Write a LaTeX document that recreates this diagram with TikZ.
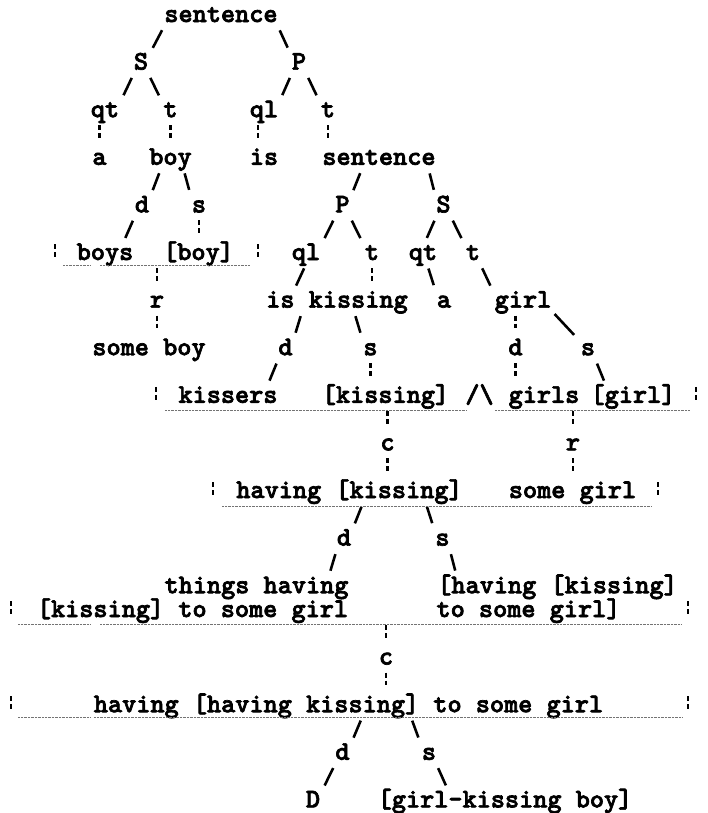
\documentclass[tikz,border=0pt]{standalone}
\usepackage{fontspec}
\newfontfamily\maquina{lmmonolt10-bold.otf}[FakeBold=2.5]
\usetikzlibrary{fit}

\begin{document}
\begin{tikzpicture}[x=0.3mm, y=-0.3mm,
    palabra/.style={font=\maquina\fontsize{23}{27}\selectfont, inner sep=0pt, anchor=base, text height=3.9mm, text depth=1.2mm},
    grupo/.style={inner sep=0pt},
    rama/.style={line width=2.2pt, shorten <=1.35mm, shorten >=2.9mm},
    barra/.style={line width=1.8pt, dash pattern=on 1.5mm off 0.9mm, shorten <=1.15mm, shorten >=4.1mm},
    corchete/.style={line width=1.8pt, dash pattern=on 1.5mm off 0.9mm},
    subrayado/.style={line width=0.6pt, black!55, dash pattern=on 0.6pt off 0.6pt}]
    \useasboundingbox (0,0) rectangle (708,813);

    % Nodos
    \node[palabra] (oracion) at (221,22) {sentence};
    \node[palabra] (S) at (141,69.6) {S};
    \node[palabra] (P) at (299,69.6) {P};
    \node[palabra] (qt) at (105,117.2) {qt};
    \node[palabra] (t) at (170.5,117.2) {t};
    \node[palabra] (ql) at (264,117.2) {ql};
    \node[palabra] (tP) at (328,117.2) {t};
    \node[palabra] (a) at (99.5,164.8) {a};
    \node[palabra] (boy) at (170.5,164.8) {boy};
    \node[palabra] (is) at (264,164.8) {is};
    \node[palabra] (oracionB) at (379,164.8) {sentence};
    \node[palabra] (dboy) at (142,212.4) {d};
    \node[palabra] (sboy) at (199,212.4) {s};
    \node[palabra] (PB) at (342.5,212.4) {P};
    \node[palabra] (SB) at (443.5,212.4) {S};
    \node[palabra] (boys) at (105,260) {boys};
    \node[palabra] (boyc) at (198.5,260) {[boy]};
    \node[palabra] (qlB) at (306,260) {ql};
    \node[palabra] (tB) at (372,260) {t};
    \node[palabra] (qtB) at (423,260) {qt};
    \node[palabra] (tS) at (473,260) {t};
    \node[palabra] (rboy) at (157,307.6) {r};
    \node[palabra] (iskiss) at (337,307.6) {is kissing};
    \node[palabra] (aB) at (444,307.6) {a};
    \node[palabra] (girl) at (523,307.6) {girl};
    \node[palabra] (someboy) at (149,355.2) {some boy};
    \node[palabra] (dkiss) at (285.5,355.2) {d};
    \node[palabra] (skiss) at (370.5,355.2) {s};
    \node[palabra] (dgirl) at (515.5,355.2) {d};
    \node[palabra] (sgirl) at (588,355.2) {s};
    \node[palabra] (kissers) at (228,402.8) {kissers};
    \node[palabra] (kissc) at (385.5,402.8) {[kissing]};
    \node[palabra] (y) at (479.5,402.8) {/\textbackslash};
    \node[palabra] (girls) at (544,402.8) {girls};
    \node[palabra] (girlc) at (633,402.8) {[girl]};
    \node[palabra] (c) at (387.5,450.4) {c};
    \node[palabra] (rgirl) at (573,450.4) {r};
    \node[palabra] (having) at (349.5,498) {having [kissing]};
    \node[palabra] (somegirl) at (572.5,498) {some girl};
    \node[palabra] (dhav) at (344,545.6) {d};
    \node[palabra] (shav) at (442.5,545.6) {s};
    \node[palabra] (things) at (256.5,593.2) {things having};
    \node[palabra] (thingsB) at (192.5,617) {[kissing] to some girl};
    \node[palabra] (havc) at (557.5,593.2) {[having [kissing]};
    \node[palabra] (havcB) at (528.5,617) {to some girl]};
    \node[palabra] (cB) at (386,664.6) {c};
    \node[palabra] (havhav) at (348.5,712.2) {having [having kissing] to some girl};
    \node[palabra] (dfin) at (342.5,759.8) {d};
    \node[palabra] (sfin) at (429,759.8) {s};
    \node[palabra] (D) at (313,807.4) {D};
    \node[palabra] (gkb) at (505,807.4) {[girl-kissing boy]};

    % Grupos
    \node[grupo, fit=(boys)(boyc)] (gboy) {};
    \node[grupo, fit=(kissers)(kissc)] (gkiss) {};
    \node[grupo, fit=(girls)(girlc)] (ggirl) {};
    \node[grupo, fit=(having)(somegirl)] (ghav) {};
    \node[grupo, fit=(things)(thingsB)(havc)(havcB)] (gthings) {};

    % Ramas
    \draw[rama] (oracion.south west) -- (S.north east);
    \draw[rama] (oracion.south east) -- (P.north west);
    \draw[rama] (S.south west) -- (qt.north east);
    \draw[rama] (S.south east) -- (t.north west);
    \draw[rama] (P.south west) -- (ql.north east);
    \draw[rama] (P.south east) -- (tP.north west);
    \draw[barra] (a.north |- qt.south) -- (a.north);
    \draw[barra] (t.south) -- (boy.north);
    \draw[barra] (ql.-125) -- (ql.-125 |- is.north);
    \draw[barra] (tP.south) -- (tP.south |- oracionB.north);
    \draw[rama] (boy.-138) -- (dboy.north east);
    \draw[rama] (boy.-34) -- (sboy.north west);
    \draw[rama] (oracionB.-153) -- (PB.north east);
    \draw[rama] (oracionB.-10) -- (SB.north west);
    \draw[rama] (dboy.south west) -- (boys.28);
    \draw[barra] (sboy.south) -- (sboy.south |- boyc.north);
    \draw[rama] (PB.south west) -- (qlB.north east);
    \draw[rama] (PB.south east) -- (tB.north west);
    \draw[rama] (SB.south west) -- (qtB.north);
    \draw[rama] (SB.south east) -- (tS.north west);
    \draw[barra] (rboy.north |- gboy.south) -- (rboy.north);
    \draw[rama] (qlB.south) -- (iskiss.169);
    \draw[barra] (tB.south) -- (tB.south |- iskiss.north);
    \draw[rama] (qtB.-65) -- (aB.north west);
    \draw[rama] (tS.south east) -- (girl.north west);
    \draw[barra] (rboy.south) -- (rboy.south |- someboy.north);
    \draw[rama] (iskiss.-166) -- (dkiss.north east);
    \draw[rama] (iskiss.-27) -- (skiss.north west);
    \draw[barra] (dgirl.north |- girl.south) -- (dgirl.north);
    \draw[rama] (girl.-15) -- (sgirl.north west);
    \draw[rama] (dkiss.south west) -- (kissers.13);
    \draw[barra] (skiss.south) -- (skiss.south |- kissc.north);
    \draw[barra] (dgirl.south) -- (dgirl.south |- girls.north);
    \draw[rama] (sgirl.south east) -- (girlc.161);
    \draw[barra] (c.north |- gkiss.south) -- (c.north);
    \draw[barra] (rgirl.north |- ggirl.south) -- (rgirl.north);
    \draw[barra] (c.south) -- (c.south |- having.north);
    \draw[barra] (rgirl.south) -- (rgirl.south |- somegirl.north);
    \draw[rama] (ghav.-173.5) -- (dhav.north east);
    \draw[rama] (ghav.-140) -- (shav.north west);
    \draw[rama] (dhav.south west) -- (things.7.5);
    \draw[rama] (shav.south east) -- (havc.175);
    \draw[barra] (cB.north |- gthings.south) -- (cB.north);
    \draw[barra] (cB.south) -- (cB.south |- havhav.north);
    \draw[rama] (havhav.-32) -- (dfin.north east);
    \draw[rama] (havhav.-8) -- (sfin.north west);
    \draw[rama] (dfin.south west) -- (D.north east);
    \draw[rama] (sfin.south east) -- (gkb.171);

    % Corchetes
    \draw[corchete] (55,244) -- (55,257);
    \draw[corchete] (258,244) -- (258,257);
    \draw[corchete] (156,386.8) -- (156,399.8);
    \draw[corchete] (696,386.8) -- (696,399.8);
    \draw[corchete] (213,482) -- (213,495);
    \draw[corchete] (658,482) -- (658,495);
    \draw[corchete] (11,601) -- (11,614);
    \draw[corchete] (688,601) -- (688,614);
    \draw[corchete] (11,696.2) -- (11,709.2);
    \draw[corchete] (688,696.2) -- (688,709.2);

    % Subrayados
    \draw[subrayado] (63,265) -- (91,265);
    \draw[subrayado] (100,265) -- (250,265);
    \draw[subrayado] (165,410) -- (466,410);
    \draw[subrayado] (495,410) -- (690,410);
    \draw[subrayado] (222,506) -- (652,506);
    \draw[subrayado] (18,624) -- (90,624);
    \draw[subrayado] (100,624) -- (682,624);
    \draw[subrayado] (18,717) -- (90,717);
    \draw[subrayado] (94,717) -- (682,717);
\end{tikzpicture}
\end{document}
